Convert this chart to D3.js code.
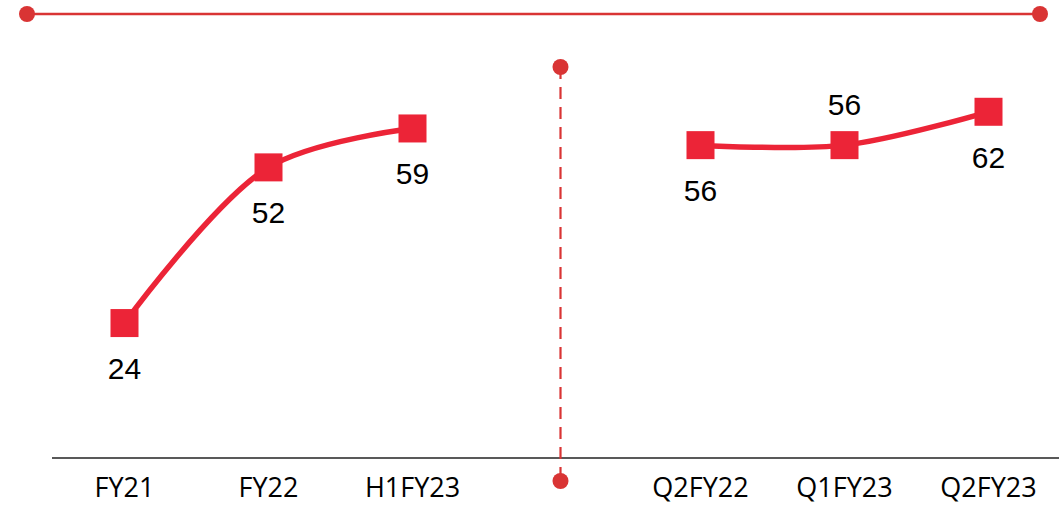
<!DOCTYPE html>
<html>
<head>
<meta charset="utf-8">
<script src="https://cdn.jsdelivr.net/npm/d3@7/dist/d3.min.js"></script>
<style>
  html, body { margin: 0; padding: 0; background: #fff; }
  svg { display: block; }
</style>
</head>
<body>
<svg id="chart" width="1059" height="505"></svg>
<script>
// Annual / half-year series
const annualPeriods = ["FY21", "FY22", "H1FY23"];
const annualValues = [24, 52, 59];
const annualLabelSide = ["below", "below", "below"];

// Quarterly series
const quarterPeriods = ["Q2FY22", "Q1FY23", "Q2FY23"];
const quarterValues = [56, 56, 62];
const quarterLabelSide = ["below", "above", "below"];

// Empty slot between the two groups, where the divider sits
const dividerSlot = "divider";
const axisSlots = [...annualPeriods, dividerSlot, ...quarterPeriods];

const svg = d3.select("#chart");

const x = d3.scaleBand().domain(axisSlots).range([52.5, 1060.5]).padding(0);
const cx = d => x(d) + x.bandwidth() / 2;
const y = d3.scaleLinear().domain([0, 80]).range([456.5, 11.7]);

const lineRed = "#ec2437";
const accentRed = "#d93434";

// Top rule with end dots
const topY = 14;
svg.append("line")
  .attr("x1", 27).attr("x2", 1040).attr("y1", topY).attr("y2", topY)
  .attr("stroke", accentRed).attr("stroke-width", 2.5);
svg.selectAll("circle.top").data([27, 1040]).join("circle")
  .attr("class", "top").attr("cx", d => d).attr("cy", topY).attr("r", 8)
  .attr("fill", accentRed);

// Baseline axis
const axis = d3.axisBottom(x)
  .tickSize(0)
  .tickPadding(20)
  .tickFormat(d => d === dividerSlot ? "" : d);
const gx = svg.append("g").attr("transform", "translate(0,458)").call(axis);
gx.select(".domain").attr("stroke", "#595959").attr("stroke-width", 2)
  .attr("d", "M52,0H1059");
gx.selectAll(".tick text")
  .attr("font-family", "'Open Sans', sans-serif")
  .attr("font-size", 27)
  .attr("fill", "#000")
  .attr("dy", "0.71em");

// Dashed divider between the two groups
const divX = cx(dividerSlot) + 4;
const divTop = 67, divBottom = 481;
svg.append("line")
  .attr("x1", divX).attr("x2", divX).attr("y1", divTop).attr("y2", divBottom)
  .attr("stroke", accentRed).attr("stroke-width", 2.2)
  .attr("stroke-dasharray", "12,8");
svg.selectAll("circle.div").data([divTop, divBottom]).join("circle")
  .attr("class", "div").attr("cx", divX).attr("cy", d => d).attr("r", 8)
  .attr("fill", accentRed);

// Series drawing
const line = d3.line()
  .x(d => cx(d.period))
  .y(d => y(d.value))
  .curve(d3.curveCatmullRom.alpha(0.5));

function drawSeries(periods, values, sides) {
  const data = periods.map((p, i) => ({ period: p, value: values[i], side: sides[i] }));
  const g = svg.append("g");
  g.append("path").datum(data)
    .attr("d", line)
    .attr("fill", "none")
    .attr("stroke", lineRed)
    .attr("stroke-width", 5.5);
  const s = 28;
  g.selectAll("rect").data(data).join("rect")
    .attr("x", d => cx(d.period) - s / 2)
    .attr("y", d => y(d.value) - s / 2)
    .attr("width", s).attr("height", s)
    .attr("fill", lineRed);
  g.selectAll("text").data(data).join("text")
    .attr("x", d => cx(d.period))
    .attr("y", d => d.side === "above" ? y(d.value) - 30 : y(d.value) + 56)
    .attr("text-anchor", "middle")
    .attr("font-family", "'Liberation Sans', Arial, sans-serif")
    .attr("font-size", 30)
    .attr("fill", "#000")
    .text(d => d.value);
}

drawSeries(annualPeriods, annualValues, annualLabelSide);
drawSeries(quarterPeriods, quarterValues, quarterLabelSide);
</script>
</body>
</html>
